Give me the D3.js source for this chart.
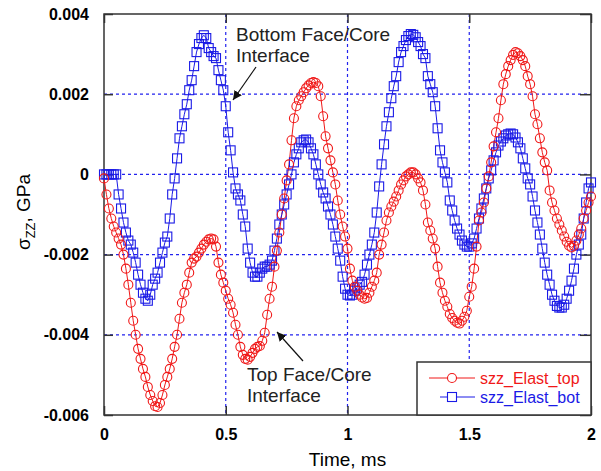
<!DOCTYPE html>
<html>
<head>
<meta charset="utf-8">
<script src="https://cdn.jsdelivr.net/npm/d3@7"></script>
<style>
  body { margin: 0; background: #fff; }
  svg { display: block; font-family: "Liberation Sans", Arial, sans-serif; }
</style>
</head>
<body>
<svg id="chart"></svg>
<script>
const width = 601;
const height = 471;

// time step of the recorded samples, ms
const timeStart = 0;
const timeStep = 0.01;

// sigma_zz at the top face/core interface, GPa (one value per 0.01 ms)
const szzTop = [
  -0.0001, -0.0005, -0.00085, -0.0011, -0.0013, -0.00145, -0.0016, -0.00175, -0.002, -0.00235,
  -0.00275, -0.0032, -0.00365, -0.004, -0.00435, -0.0046, -0.00485, -0.00505, -0.0053, -0.0055,
  -0.00565, -0.00578, -0.0058, -0.0057, -0.0055, -0.00525, -0.00505, -0.00485, -0.0046, -0.0043,
  -0.004, -0.0036, -0.0032, -0.00295, -0.00275, -0.00245, -0.0022, -0.0021, -0.00205, -0.00195,
  -0.00185, -0.00175, -0.00168, -0.00162, -0.0016, -0.00162, -0.0018, -0.0022, -0.0025, -0.0027,
  -0.0029, -0.0031, -0.00325, -0.00345, -0.00375, -0.004, -0.0043, -0.0045, -0.0046, -0.00462,
  -0.00455, -0.00445, -0.00435, -0.0043, -0.00428, -0.00415, -0.00395, -0.0035, -0.0031, -0.0028,
  -0.0023, -0.0019, -0.00145, -0.001, -0.0006, -0.00015, 0.00025, 0.00085, 0.0014, 0.0017,
  0.00185, 0.00195, 0.00205, 0.00215, 0.00222, 0.00228, 0.0023, 0.00228, 0.0022, 0.00195,
  0.00145, 0.00095, 0.00065, 0.00035, 0.00005, -0.00025, -0.00065, -0.001, -0.0013, -0.00155,
  -0.00185, -0.00235, -0.00265, -0.0028, -0.0029, -0.003, -0.00307, -0.0031, -0.00308, -0.00295,
  -0.0028, -0.00265, -0.00245, -0.002, -0.00175, -0.00145, -0.00115, -0.00095, -0.0008, -0.00068,
  -0.00055, -0.0004, -0.00025, -0.00015, -0.00005, 0.0, 0.00005, 0.00005, 0.0, -0.0001,
  -0.0002, -0.0004, -0.00075, -0.0012, -0.0014, -0.0016, -0.00185, -0.0023, -0.0027, -0.00295,
  -0.00315, -0.0033, -0.00348, -0.00358, -0.00365, -0.0037, -0.00372, -0.00365, -0.00355, -0.0034,
  -0.00305, -0.0028, -0.00235, -0.0018, -0.00115, -0.00095, -0.0007, -0.00035, -0.00005, 0.0003,
  0.0007, 0.00105, 0.0014, 0.00185, 0.00225, 0.0025, 0.0027, 0.00285, 0.00298, 0.00305,
  0.00302, 0.00295, 0.00285, 0.0027, 0.00245, 0.00225, 0.00195, 0.0015, 0.00125, 0.0009,
  0.00055, 0.0003, 0.0001, -0.0004, -0.0007, -0.0009, -0.0011, -0.00125, -0.0014, -0.00155,
  -0.00168, -0.00178, -0.00182, -0.00178, -0.00165, -0.0015, -0.00135, -0.0011, -0.0009, -0.0007,
  -0.00055
];

// sigma_zz at the bottom face/core interface, GPa (one value per 0.01 ms)
const szzBot = [
  0.0, 0.0, 0.0, 0.0, 0.0, 0.0, -0.0005, -0.00085, -0.0012, -0.00145,
  -0.00165, -0.00175, -0.00195, -0.0022, -0.0025, -0.00275, -0.00295, -0.0031, -0.00315, -0.003,
  -0.00275, -0.0026, -0.00245, -0.0022, -0.00195, -0.0017, -0.00155, -0.0011, -0.0005, -0.0001,
  0.0004, 0.0009, 0.0012, 0.0015, 0.00175, 0.0021, 0.00235, 0.0027, 0.00305, 0.00325,
  0.0034, 0.00347, 0.0034, 0.00315, 0.00305, 0.00295, 0.0029, 0.0026, 0.00235, 0.0021,
  0.0017, 0.00105, 0.0006, 0.00005, -0.00035, -0.0005, -0.00065, -0.001, -0.0013, -0.00185,
  -0.0022, -0.00245, -0.00255, -0.00255, -0.00245, -0.00235, -0.0023, -0.0023, -0.00225, -0.00215,
  -0.0019, -0.0016, -0.00125, -0.001, -0.00075, -0.0005, -0.00025, 0.0, 0.0003, 0.0005,
  0.00065, 0.0008, 0.00085, 0.00087, 0.0008, 0.00065, 0.0005, 0.00025, 0.0, -0.00025,
  -0.00045, -0.0006, -0.0008, -0.001, -0.00125, -0.00155, -0.00185, -0.00215, -0.00255, -0.00285,
  -0.003, -0.00302, -0.003, -0.0029, -0.00282, -0.00275, -0.00268, -0.0025, -0.00225, -0.002,
  -0.00175, -0.00145, -0.00095, -0.0003, 0.00025, 0.00075, 0.0012, 0.00155, 0.0019, 0.0022,
  0.00245, 0.0028, 0.00305, 0.0032, 0.00335, 0.00345, 0.0035, 0.00348, 0.00342, 0.0033,
  0.0032, 0.003, 0.0029, 0.00245, 0.00225, 0.00205, 0.0017, 0.00115, 0.0006, 0.0003,
  0.00005, -0.0002, -0.00065, -0.0009, -0.00115, -0.00135, -0.0015, -0.00165, -0.00175, -0.0018,
  -0.0018, -0.00172, -0.0016, -0.00135, -0.0011, -0.00085, -0.0006, -0.00035, -0.0001, 0.0001,
  0.00035, 0.00055, 0.00072, 0.00082, 0.0009, 0.00097, 0.001, 0.00102, 0.001, 0.00092,
  0.0008, 0.00065, 0.0004, 0.00015, -0.0001, -0.00025, -0.00055, -0.0009, -0.0012, -0.0015,
  -0.00185, -0.0022, -0.0025, -0.00275, -0.003, -0.00315, -0.00328, -0.00332, -0.00332, -0.00325,
  -0.0031, -0.0029, -0.00265, -0.00235, -0.002, -0.00175, -0.0015, -0.0011, -0.0007, -0.00035,
  -0.0002
];

const xTicks = [0, 0.5, 1, 1.5, 2];
const xTickLabels = ["0", "0.5", "1", "1.5", "2"];
const yTicks = [0.004, 0.002, 0, -0.002, -0.004, -0.006];
const yTickLabels = ["0.004", "0.002", "0", "-0.002", "-0.004", "-0.006"];
const seriesNames = ["szz_Elast_top", "szz_Elast_bot"];

const plot = { left: 104, right: 591, top: 14, bottom: 415 };
const red = "#f01818";
const blue = "#1a1ae6";
const axisColor = "#333";

const svg = d3.select("#chart")
  .attr("width", width)
  .attr("height", height);

const x = d3.scaleLinear().domain([0, 2]).range([plot.left, plot.right]);
const y = d3.scaleLinear().domain([-0.006, 0.004]).range([plot.bottom, plot.top]);

const toPoints = vals => vals.map((v, i) => ({ t: timeStart + i * timeStep, v: v }));
const topPts = toPoints(szzTop);
const botPts = toPoints(szzBot);

/* ---------------------------
Grid lines
--------------------------- */

const grid = svg.append("g")
  .attr("stroke", "#2222ee")
  .attr("stroke-width", 1.2)
  .attr("stroke-dasharray", "3,3");

grid.selectAll("line.gx")
  .data(xTicks.slice(1, -1))
  .enter()
  .append("line")
  .attr("x1", d => x(d)).attr("x2", d => x(d))
  .attr("y1", plot.top).attr("y2", plot.bottom);

grid.selectAll("line.gy")
  .data(yTicks.slice(1, -1))
  .enter()
  .append("line")
  .attr("x1", plot.left).attr("x2", plot.right)
  .attr("y1", d => y(d)).attr("y2", d => y(d));

/* ---------------------------
Axes (ticks pointing inward)
--------------------------- */

const xAxisB = d3.axisBottom(x).tickValues(xTicks).tickSize(-9).tickFormat((d, i) => xTickLabels[i]).tickPadding(14);
const xAxisT = d3.axisTop(x).tickValues(xTicks).tickSize(-9).tickFormat("");
const yAxisL = d3.axisLeft(y).tickValues(yTicks).tickSize(-9).tickFormat((d, i) => yTickLabels[i]).tickPadding(15);
const yAxisR = d3.axisRight(y).tickValues(yTicks).tickSize(-11).tickFormat("");

function styleAxis(g) {
  g.select(".domain").remove();
  g.selectAll("line").attr("stroke", axisColor).attr("stroke-width", 1.5);
  g.selectAll("text")
    .attr("fill", "#000")
    .style("font-size", "16px")
    .style("font-weight", "bold")
    .style("font-family", "'Liberation Sans', Arial, sans-serif");
}

svg.append("g").attr("transform", `translate(0,${plot.bottom})`).call(xAxisB).call(styleAxis);
svg.append("g").attr("transform", `translate(0,${plot.top})`).call(xAxisT).call(styleAxis);
svg.append("g").attr("transform", `translate(${plot.left},0)`).call(yAxisL).call(styleAxis);
svg.append("g").attr("transform", `translate(${plot.right},0)`).call(yAxisR).call(styleAxis);

svg.append("rect")
  .attr("x", plot.left).attr("y", plot.top)
  .attr("width", plot.right - plot.left)
  .attr("height", plot.bottom - plot.top)
  .attr("fill", "none")
  .attr("stroke", axisColor)
  .attr("stroke-width", 1.5);

/* ---------------------------
Series
--------------------------- */

const line = d3.line().x(d => x(d.t)).y(d => y(d.v));

svg.append("path")
  .datum(topPts)
  .attr("d", line)
  .attr("fill", "none")
  .attr("stroke", red)
  .attr("stroke-width", 1);

svg.append("path")
  .datum(botPts)
  .attr("d", line)
  .attr("fill", "none")
  .attr("stroke", blue)
  .attr("stroke-width", 1);

svg.append("g").selectAll("rect")
  .data(botPts)
  .enter()
  .append("rect")
  .attr("x", d => x(d.t) - 4.5)
  .attr("y", d => y(d.v) - 4.5)
  .attr("width", 9)
  .attr("height", 9)
  .attr("fill", "none")
  .attr("stroke", blue)
  .attr("stroke-width", 1.1);

svg.append("g").selectAll("circle")
  .data(topPts)
  .enter()
  .append("circle")
  .attr("cx", d => x(d.t))
  .attr("cy", d => y(d.v))
  .attr("r", 4.5)
  .attr("fill", "none")
  .attr("stroke", red)
  .attr("stroke-width", 1.1);

/* ---------------------------
Axis titles
--------------------------- */

svg.append("text")
  .attr("x", (plot.left + plot.right) / 2)
  .attr("y", 466)
  .attr("text-anchor", "middle")
  .style("font-size", "19px")
  .text("Time, ms");

const yTitle = svg.append("text")
  .attr("transform", "translate(30,212) rotate(-90)")
  .attr("text-anchor", "middle")
  .style("font-size", "19px");
yTitle.append("tspan").text("σ");
yTitle.append("tspan").attr("dy", 5).style("font-size", "13px").text("ZZ");
yTitle.append("tspan").attr("dy", -5).text(", GPa");

/* ---------------------------
Annotations
--------------------------- */

svg.append("defs").append("marker")
  .attr("id", "arrow")
  .attr("viewBox", "0 0 10 10")
  .attr("refX", 10).attr("refY", 5)
  .attr("markerWidth", 9).attr("markerHeight", 9)
  .attr("markerUnits", "userSpaceOnUse")
  .attr("orient", "auto")
  .append("path")
  .attr("d", "M0,0 L10,5 L0,10 z")
  .attr("fill", "#111");

function annotation(lines, tx, ty, from, to) {
  const t = svg.append("text")
    .attr("x", tx).attr("y", ty)
    .style("font-size", "19px")
    .attr("fill", "#222");
  lines.forEach((s, i) => {
    t.append("tspan").attr("x", tx).attr("dy", i === 0 ? 0 : 21).text(s);
  });
  svg.append("line")
    .attr("x1", from[0]).attr("y1", from[1])
    .attr("x2", to[0]).attr("y2", to[1])
    .attr("stroke", "#111")
    .attr("stroke-width", 1.2)
    .attr("marker-end", "url(#arrow)");
}

annotation(["Bottom Face/Core", "Interface"], 236, 41, [256, 67], [233, 100]);
annotation(["Top Face/Core", "Interface"], 247, 381, [303, 361], [277, 332]);

/* ---------------------------
Legend
--------------------------- */

const legend = svg.append("g");
legend.append("rect")
  .attr("x", 417).attr("y", 362)
  .attr("width", plot.right - 417).attr("height", plot.bottom - 362)
  .attr("fill", "#fff")
  .attr("stroke", axisColor)
  .attr("stroke-width", 1.5);

const legendRows = [
  { name: seriesNames[0], color: red, shape: "circle", y: 378, x1: 429 },
  { name: seriesNames[1], color: blue, shape: "square", y: 397, x1: 440 }
];

legendRows.forEach(r => {
  legend.append("line")
    .attr("x1", r.x1).attr("x2", 475)
    .attr("y1", r.y).attr("y2", r.y)
    .attr("stroke", r.color).attr("stroke-width", 1);
  if (r.shape === "circle") {
    legend.append("circle").attr("cx", 452).attr("cy", r.y).attr("r", 4.5)
      .attr("fill", "#fff").attr("stroke", r.color).attr("stroke-width", 1.1);
  } else {
    legend.append("rect").attr("x", 447.5).attr("y", r.y - 4.5).attr("width", 9).attr("height", 9)
      .attr("fill", "#fff").attr("stroke", r.color).attr("stroke-width", 1.1);
  }
  legend.append("text")
    .attr("x", 480).attr("y", r.y + 5.5)
    .attr("fill", r.color)
    .style("font-size", "16px")
    .text(r.name);
});
</script>
</body>
</html>
